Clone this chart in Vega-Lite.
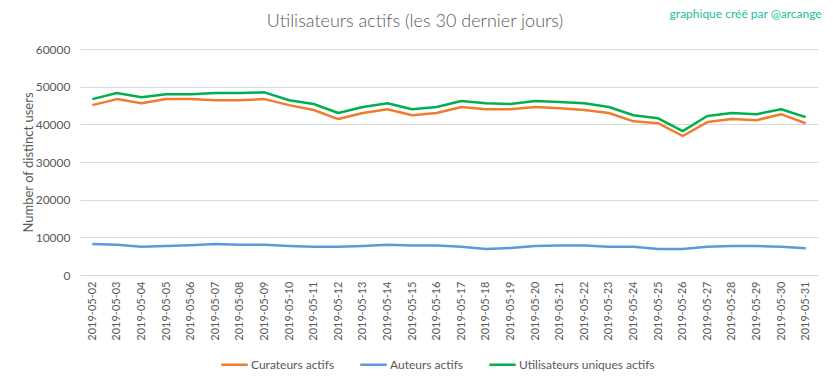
{
  "$schema": "https://vega.github.io/schema/vega-lite/v6.json",
  "width": 738,
  "height": 226,
  "autosize": {"type": "none"},
  "padding": {"left": 80, "top": 49, "right": 15, "bottom": 104},
  "background": "white",
  "config": {
    "font": "Lato",
    "view": {"stroke": null},
    "axis": {"labelColor": "#595959", "titleColor": "#595959", "labelFont": "Lato", "titleFont": "Lato"},
    "legend": {"labelFont": "Lato"}
  },
  "title": {
    "text": "Utilisateurs actifs (les 30 dernier jours)",
    "font": "Lato",
    "fontSize": 18,
    "fontWeight": 300,
    "color": "#595959",
    "anchor": "middle",
    "dx": -34,
    "offset": 17,
    "dy": 40
  },
  "data": {
    "values": [
      {"date": "2019-05-02", "Curateurs actifs": 45100, "Auteurs actifs": 8200, "Utilisateurs uniques actifs": 46700},
      {"date": "2019-05-03", "Curateurs actifs": 46700, "Auteurs actifs": 8000, "Utilisateurs uniques actifs": 48300},
      {"date": "2019-05-04", "Curateurs actifs": 45600, "Auteurs actifs": 7500, "Utilisateurs uniques actifs": 47200},
      {"date": "2019-05-05", "Curateurs actifs": 46700, "Auteurs actifs": 7700, "Utilisateurs uniques actifs": 48000},
      {"date": "2019-05-06", "Curateurs actifs": 46700, "Auteurs actifs": 7900, "Utilisateurs uniques actifs": 48000},
      {"date": "2019-05-07", "Curateurs actifs": 46400, "Auteurs actifs": 8200, "Utilisateurs uniques actifs": 48300},
      {"date": "2019-05-08", "Curateurs actifs": 46400, "Auteurs actifs": 8000, "Utilisateurs uniques actifs": 48300},
      {"date": "2019-05-09", "Curateurs actifs": 46700, "Auteurs actifs": 8000, "Utilisateurs uniques actifs": 48500},
      {"date": "2019-05-10", "Curateurs actifs": 45100, "Auteurs actifs": 7700, "Utilisateurs uniques actifs": 46400},
      {"date": "2019-05-11", "Curateurs actifs": 43800, "Auteurs actifs": 7500, "Utilisateurs uniques actifs": 45400},
      {"date": "2019-05-12", "Curateurs actifs": 41400, "Auteurs actifs": 7500, "Utilisateurs uniques actifs": 43000},
      {"date": "2019-05-13", "Curateurs actifs": 43000, "Auteurs actifs": 7700, "Utilisateurs uniques actifs": 44600},
      {"date": "2019-05-14", "Curateurs actifs": 44000, "Auteurs actifs": 8000, "Utilisateurs uniques actifs": 45600},
      {"date": "2019-05-15", "Curateurs actifs": 42400, "Auteurs actifs": 7800, "Utilisateurs uniques actifs": 44000},
      {"date": "2019-05-16", "Curateurs actifs": 43000, "Auteurs actifs": 7800, "Utilisateurs uniques actifs": 44600},
      {"date": "2019-05-17", "Curateurs actifs": 44600, "Auteurs actifs": 7500, "Utilisateurs uniques actifs": 46200},
      {"date": "2019-05-18", "Curateurs actifs": 44000, "Auteurs actifs": 6900, "Utilisateurs uniques actifs": 45600},
      {"date": "2019-05-19", "Curateurs actifs": 44000, "Auteurs actifs": 7200, "Utilisateurs uniques actifs": 45400},
      {"date": "2019-05-20", "Curateurs actifs": 44600, "Auteurs actifs": 7700, "Utilisateurs uniques actifs": 46200},
      {"date": "2019-05-21", "Curateurs actifs": 44300, "Auteurs actifs": 7800, "Utilisateurs uniques actifs": 45900},
      {"date": "2019-05-22", "Curateurs actifs": 43800, "Auteurs actifs": 7800, "Utilisateurs uniques actifs": 45600},
      {"date": "2019-05-23", "Curateurs actifs": 43000, "Auteurs actifs": 7500, "Utilisateurs uniques actifs": 44600},
      {"date": "2019-05-24", "Curateurs actifs": 40800, "Auteurs actifs": 7500, "Utilisateurs uniques actifs": 42400},
      {"date": "2019-05-25", "Curateurs actifs": 40300, "Auteurs actifs": 6900, "Utilisateurs uniques actifs": 41600},
      {"date": "2019-05-26", "Curateurs actifs": 36900, "Auteurs actifs": 6900, "Utilisateurs uniques actifs": 38200},
      {"date": "2019-05-27", "Curateurs actifs": 40600, "Auteurs actifs": 7500, "Utilisateurs uniques actifs": 42200},
      {"date": "2019-05-28", "Curateurs actifs": 41400, "Auteurs actifs": 7700, "Utilisateurs uniques actifs": 43000},
      {"date": "2019-05-29", "Curateurs actifs": 41100, "Auteurs actifs": 7700, "Utilisateurs uniques actifs": 42700},
      {"date": "2019-05-30", "Curateurs actifs": 42700, "Auteurs actifs": 7500, "Utilisateurs uniques actifs": 44000},
      {"date": "2019-05-31", "Curateurs actifs": 40300, "Auteurs actifs": 7100, "Utilisateurs uniques actifs": 41900}
    ]
  },
  "encoding": {
    "x": {
      "field": "date",
      "type": "ordinal",
      "scale": {"type": "point", "padding": 0.5},
      "axis": {
        "title": null,
        "labelAngle": -90,
        "labelFontSize": 11,
        "labelPadding": 6,
        "ticks": false,
        "domainColor": "#d9d9d9",
        "domainWidth": 1,
        "grid": false
      }
    },
    "y": {
      "field": "value",
      "type": "quantitative",
      "scale": {"domain": [0, 60000], "nice": false},
      "axis": {
        "title": "Number of distinct users",
        "titleFontSize": 13,
        "titleFontWeight": "normal",
        "titlePadding": 0,
        "values": [0, 10000, 20000, 30000, 40000, 50000, 60000],
        "format": "d",
        "labelFontSize": 12,
        "labelPadding": 10,
        "labelOverlap": false,
        "ticks": false,
        "domain": false,
        "gridColor": "#d9d9d9",
        "gridWidth": 1
      }
    }
  },
  "layer": [
    {
      "transform": [
        {"fold": ["Curateurs actifs", "Auteurs actifs", "Utilisateurs uniques actifs"], "as": ["series", "value"]}
      ],
      "mark": {"type": "line", "strokeWidth": 2.5, "strokeJoin": "round"},
      "encoding": {
        "color": {
          "field": "series",
          "type": "nominal",
          "scale": {
            "domain": ["Curateurs actifs", "Auteurs actifs", "Utilisateurs uniques actifs"],
            "range": ["#ED7D31", "#5B9BD5", "#00B050"]
          },
          "legend": {
            "title": null,
            "orient": "none",
            "direction": "horizontal",
            "legendX": 140,
            "legendY": 301,
            "symbolType": "stroke",
            "symbolStrokeWidth": 2.5,
            "symbolSize": 700,
            "labelFontSize": 12,
            "labelColor": "#595959",
            "labelOffset": 2,
            "columnPadding": 20
          }
        }
      }
    },
    {
      "data": {"values": [{"label": "graphique créé par @arcange", "date": "2019-05-31", "value": 60000}]},
      "mark": {"type": "text", "align": "right", "baseline": "top", "fontSize": 12, "color": "#1ABC9C", "dx": 16, "dy": -40, "font": "Lato"},
      "encoding": {
        "text": {"field": "label"}
      }
    }
  ]
}
